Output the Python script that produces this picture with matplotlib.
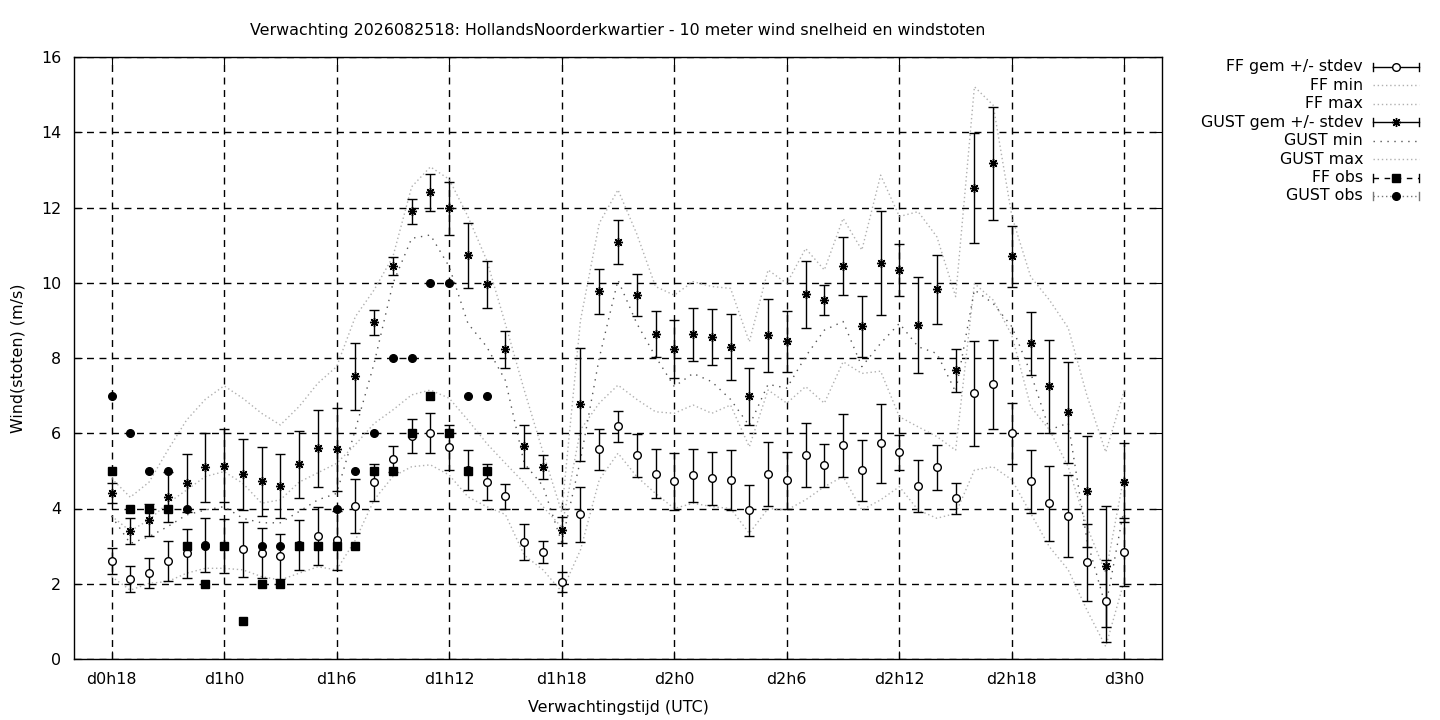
import numpy as np
import matplotlib
matplotlib.use('Agg')
import matplotlib.pyplot as plt
from matplotlib.lines import Line2D

# --- DATOS (uren vanaf d0h0) ---
hours = list(range(18, 73))
tick_hours = [18, 24, 30, 36, 42, 48, 54, 60, 66, 72]
tick_labels = ['d0h18', 'd1h0', 'd1h6', 'd1h12', 'd1h18', 'd2h0', 'd2h6', 'd2h12', 'd2h18', 'd3h0']

ff_mean = [2.60, 2.12, 2.29, 2.60, 2.81, 3.02, 3.01, 2.92, 2.81, 2.73, 3.03, 3.26, 3.15, 4.07, 4.70,
           5.32, 5.93, 6.00, 5.63, 5.02, 4.70, 4.32, 3.10, 2.84, 2.04, 3.85, 5.57, 6.18, 5.41, 4.93,
           4.72, 4.88, 4.80, 4.75, 3.95, 4.91, 4.75, 5.41, 5.15, 5.68, 5.01, 5.73, 5.49, 4.59, 5.09,
           4.27, 7.06, 7.30, 6.00, 4.72, 4.14, 3.79, 2.57, 1.53, 2.84]
ff_sd = [0.34, 0.35, 0.40, 0.54, 0.65, 0.72, 0.72, 0.73, 0.66, 0.60, 0.66, 0.77, 0.79, 0.71, 0.49,
         0.35, 0.45, 0.53, 0.60, 0.54, 0.48, 0.32, 0.48, 0.29, 0.27, 0.73, 0.55, 0.41, 0.56, 0.65,
         0.75, 0.71, 0.71, 0.80, 0.68, 0.85, 0.76, 0.85, 0.57, 0.84, 0.80, 1.04, 0.47, 0.69, 0.61,
         0.42, 1.40, 1.18, 0.81, 0.84, 1.00, 1.09, 1.03, 1.09, 0.90]
ff_min = [2.19, 1.83, 2.01, 2.06, 2.28, 2.41, 2.41, 2.37, 2.19, 2.10, 2.28, 2.45, 2.37, 3.16, 4.23,
          4.85, 5.11, 5.16, 4.89, 4.31, 4.05, 3.84, 2.76, 2.37, 1.79, 2.90, 4.76, 5.47, 4.85, 4.40,
          4.00, 4.14, 4.05, 4.00, 3.34, 4.00, 3.96, 4.23, 4.58, 4.85, 3.96, 4.23, 4.58, 3.96, 3.74,
          3.87, 5.02, 5.11, 4.76, 3.87, 2.98, 2.37, 1.30, 0.33, 2.10]
ff_max = [3.80, 3.40, 3.70, 4.14, 4.49, 4.85, 4.98, 4.67, 4.14, 4.23, 4.70, 4.95, 5.20, 5.70, 6.26,
          6.62, 7.02, 7.15, 6.93, 6.35, 5.73, 5.20, 4.68, 4.05, 3.50, 6.09, 6.80, 7.28, 6.90, 6.57,
          6.53, 6.75, 6.53, 6.75, 5.64, 7.15, 6.80, 7.24, 6.80, 7.90, 7.59, 7.65, 6.44, 6.17, 5.91,
          5.55, 9.98, 9.54, 8.60, 6.71, 6.09, 5.11, 3.52, 2.28, 4.93]

gust_mean = [4.41, 3.40, 3.70, 4.30, 4.69, 5.09, 5.13, 4.91, 4.72, 4.60, 5.17, 5.60, 5.57, 7.51, 8.95,
             10.45, 11.90, 12.40, 11.98, 10.73, 9.96, 8.23, 5.65, 5.10, 3.43, 6.77, 9.77, 11.08, 9.67, 8.63,
             8.23, 8.63, 8.56, 8.29, 6.98, 8.60, 8.44, 9.69, 9.54, 10.44, 8.84, 10.52, 10.33, 8.87, 9.83,
             7.67, 12.51, 13.17, 10.70, 8.39, 7.25, 6.56, 4.46, 2.46, 4.70]
gust_sd = [0.27, 0.35, 0.43, 0.67, 0.77, 0.91, 0.97, 0.95, 0.92, 0.85, 0.88, 1.03, 1.10, 0.89, 0.33,
           0.24, 0.33, 0.49, 0.70, 0.87, 0.63, 0.49, 0.58, 0.31, 0.34, 1.50, 0.59, 0.59, 0.55, 0.61,
           0.77, 0.71, 0.74, 0.88, 0.76, 0.97, 0.80, 0.88, 0.41, 0.77, 0.81, 1.38, 0.69, 1.28, 0.92,
           0.58, 1.46, 1.51, 0.80, 0.83, 1.24, 1.34, 1.47, 1.60, 1.05]
gust_min = [3.80, 3.07, 3.25, 3.52, 3.83, 3.96, 4.05, 3.74, 3.62, 3.62, 3.92, 4.23, 4.40, 6.10, 7.86,
            9.98, 11.18, 11.27, 10.43, 8.92, 8.30, 7.40, 5.20, 4.60, 3.10, 5.29, 8.00, 10.07, 8.92, 8.04,
            7.24, 7.59, 7.37, 6.90, 6.20, 7.30, 7.20, 8.04, 8.74, 8.97, 7.77, 8.39, 8.92, 8.30, 8.12,
            7.10, 9.81, 9.45, 8.83, 7.60, 6.09, 6.27, 3.16, 1.39, 4.05]
gust_max = [4.80, 4.30, 4.70, 5.55, 6.35, 6.90, 7.26, 6.93, 6.53, 6.22, 6.71, 7.33, 7.77, 9.10, 9.81,
            10.69, 12.55, 13.08, 12.75, 11.76, 10.60, 8.90, 7.15, 5.50, 3.90, 9.00, 11.58, 12.47, 11.30, 9.90,
            9.67, 10.03, 9.90, 9.85, 8.43, 10.34, 9.98, 10.91, 10.34, 11.71, 10.87, 12.86, 11.76, 11.89, 11.22,
            9.63, 15.21, 14.72, 11.76, 10.16, 9.54, 8.80, 7.00, 5.50, 7.15]

# waarnemingen (alleen de eerste uren)
obs_hours = [18, 19, 20, 21, 22, 23, 24, 25, 26, 27, 28, 29, 30, 31, 32, 33, 34, 35, 36, 37, 38]
ff_obs = [5, 4, 4, 4, 3, 2, 3, 1, 2, 2, 3, 3, 3, 3, 5, 5, 6, 7, 6, 5, 5]
gust_obs = [7, 6, 5, 5, 4, 3, 3, np.nan, 3, 3, 3, 3, 4, 5, 6, 8, 8, 10, 10, 7, 7]

titel = 'Verwachting 2026082518: HollandsNoorderkwartier - 10 meter wind snelheid en windstoten'

# --- STIJLEN ---
grijs = '#b0b0b0'
donker = '#555555'
fijn = (0, (1, 2))
grof = (0, (1, 4))
ster = (8, 2, 0)
fs = 11.4

plt.rcParams['font.family'] = 'DejaVu Sans'
plt.rcParams['font.size'] = fs

fig = plt.figure(figsize=(14.4, 7.2), dpi=100)
ax = fig.add_axes([74 / 1440, 1 - 659 / 720, (1162 - 74) / 1440, (659 - 57) / 720])

ax.errorbar(hours, ff_mean, yerr=ff_sd, fmt='o', color='black', mfc='white', mec='black',
            ms=5.5, mew=1, elinewidth=1, capsize=3.5, capthick=1, zorder=3)
ax.plot(hours, ff_min, color=grijs, lw=1, ls=fijn, zorder=2)
ax.plot(hours, ff_max, color=grijs, lw=1, ls=fijn, zorder=2)
ax.errorbar(hours, gust_mean, yerr=gust_sd, fmt='none', ecolor='black',
            elinewidth=1, capsize=3.5, capthick=1, zorder=3)
ax.plot(hours, gust_mean, ls='none', marker=ster, color='black', ms=6.5, mew=1, zorder=4)
ax.plot(hours, gust_min, color=donker, lw=1, ls=grof, zorder=2)
ax.plot(hours, gust_max, color=grijs, lw=1, ls=fijn, zorder=2)
ax.plot(obs_hours, ff_obs, 's', color='black', ms=5.5, zorder=5)
ax.plot(obs_hours, gust_obs, 'o', color='black', ms=5.5, zorder=6)

ax.set_xlim(16, 74)
ax.set_ylim(0, 16)
ax.set_xticks(tick_hours)
ax.set_xticklabels(tick_labels)
ax.set_yticks(range(0, 17, 2))
ax.tick_params(direction='in', length=6, top=True, right=True, pad=9, labelsize=fs)
ax.grid(True, color='black', lw=1, ls=(0, (5, 4)))
ax.set_axisbelow(True)
for s in ax.spines.values():
    s.set_linewidth(1)

ax.set_title(titel, fontsize=fs, pad=16)
ax.set_xlabel('Verwachtingstijd (UTC)', fontsize=fs, labelpad=10)
ax.set_ylabel('Wind(stoten) (m/s)', fontsize=fs, labelpad=11)

# --- LEGENDA (rechts buiten de grafiek) ---
def fx(px):
    return px / 1440

def fy(py):
    return 1 - py / 720

def legenda_regel(y, label, kleur='black', stijl='-', marker=None, mkw=None, kappen=False):
    fig.text(fx(1363), fy(y), label, ha='right', va='center', fontsize=fs)
    fig.add_artist(Line2D([fx(1373), fx(1419)], [fy(y), fy(y)], color=kleur, lw=1, ls=stijl,
                          transform=fig.transFigure))
    if kappen:
        for xp in (1373, 1419):
            fig.add_artist(Line2D([fx(xp), fx(xp)], [fy(y - 4), fy(y + 4)], color=kleur, lw=1,
                                  transform=fig.transFigure))
    if marker is not None:
        fig.add_artist(Line2D([fx(1396)], [fy(y)], ls='none', marker=marker,
                              transform=fig.transFigure, **(mkw or {})))

rijen = [66.5, 85, 103.5, 122, 140.5, 159, 177.5, 196]
legenda_regel(rijen[0], 'FF gem +/- stdev', marker='o', kappen=True,
              mkw=dict(mfc='white', mec='black', ms=5.5, mew=1))
legenda_regel(rijen[1], 'FF min', kleur=grijs, stijl=fijn)
legenda_regel(rijen[2], 'FF max', kleur=grijs, stijl=fijn)
legenda_regel(rijen[3], 'GUST gem +/- stdev', marker=ster, kappen=True,
              mkw=dict(color='black', ms=6.5, mew=1))
legenda_regel(rijen[4], 'GUST min', kleur=donker, stijl=grof)
legenda_regel(rijen[5], 'GUST max', kleur=grijs, stijl=fijn)
legenda_regel(rijen[6], 'FF obs', stijl=(0, (4, 4)), marker='s', kappen=True,
              mkw=dict(color='black', ms=5.5))
legenda_regel(rijen[7], 'GUST obs', kleur='#777777', stijl=fijn, marker='o', kappen=True,
              mkw=dict(color='black', ms=5.5))

fig.savefig('out.png', dpi=100)
